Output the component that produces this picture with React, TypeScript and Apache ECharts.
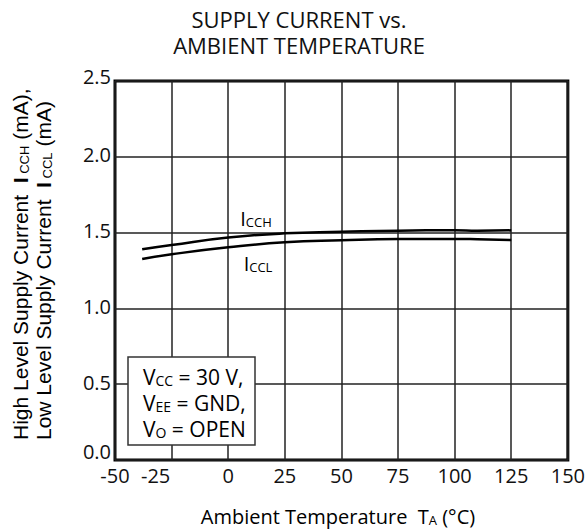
import React, { useEffect, useRef } from "react";
import * as echarts from "echarts";

const temps = [-38, -25, 0, 25, 50, 75, 100, 110, 125];
const icch = [1.39, 1.418, 1.467, 1.495, 1.505, 1.513, 1.515, 1.512, 1.515];
const iccl = [1.326, 1.357, 1.403, 1.436, 1.449, 1.457, 1.458, 1.456, 1.451];

const FONT = "'Open Sans', sans-serif";
const ARIAL = "'Liberation Sans', Arial, sans-serif";

export default function App() {
  const ref = useRef<HTMLDivElement>(null);
  useEffect(() => {
    if (!ref.current) return;
    const chart = echarts.init(ref.current, null, { renderer: "svg" });
    const big = { fontFamily: FONT, fontSize: 20, color: "#111", verticalAlign: "bottom", lineHeight: 22 };
    const small = { fontFamily: FONT, fontSize: 13, color: "#111", verticalAlign: "bottom", lineHeight: 18 };
    const tick = { fontFamily: FONT, fontSize: 20, color: "#111" };
    chart.setOption({
      animation: false,
      backgroundColor: "#fff",
      grid: {
        left: 115,
        right: 19,
        top: 81,
        bottom: 72,
        show: true,
        borderColor: "#000",
        borderWidth: 3,
        backgroundColor: "transparent",
      },
      xAxis: {
        type: "value",
        min: -50,
        max: 150,
        interval: 25,
        axisLine: { show: false },
        axisTick: { show: false },
        splitLine: { show: true, lineStyle: { color: "#222", width: 1.5 } },
        axisLabel: {
          ...tick,
          margin: 5,
          formatter: (v: number) => (v === -25 ? "{l|-25}" : String(v)),
          rich: { l: { ...tick, padding: [0, 32, 0, 0] } },
        },
      },
      yAxis: {
        type: "value",
        min: 0,
        max: 2.5,
        interval: 0.5,
        axisLine: { show: false },
        axisTick: { show: false },
        splitLine: { show: true, lineStyle: { color: "#222", width: 1.5 } },
        axisLabel: {
          ...tick,
          margin: 4,
          formatter: (v: number) =>
            v === 0 ? "{lo|0.0}" : v === 2.5 ? "{hi|2.5}" : "{n|" + v.toFixed(1) + "}",
          rich: {
            n: { ...tick, padding: [0, 0, 4, 0] },
            lo: { ...tick, padding: [0, 0, 18, 0] },
            hi: { ...tick, padding: [0, 0, 10, 0] },
          },
        },
      },
      series: [
        {
          type: "line",
          name: "ICCH",
          smooth: true,
          symbol: "none",
          lineStyle: { color: "#000", width: 2.5 },
          data: temps.map((t, i) => [t, icch[i]]),
        },
        {
          type: "line",
          name: "ICCL",
          smooth: true,
          symbol: "none",
          lineStyle: { color: "#000", width: 2.5 },
          data: temps.map((t, i) => [t, iccl[i]]),
        },
      ],
      graphic: [
        {
          type: "text",
          x: 299,
          y: 19,
          style: { text: "SUPPLY CURRENT vs.", font: "22px " + FONT, fill: "#111", align: "center", verticalAlign: "middle" },
        },
        {
          type: "text",
          x: 299,
          y: 45,
          style: { text: "AMBIENT TEMPERATURE", font: "22px " + FONT, fill: "#111", align: "center", verticalAlign: "middle" },
        },
        {
          type: "text",
          x: 256,
          y: 217,
          style: { text: "{a|I}{s|CCH}", align: "center", verticalAlign: "middle", rich: { a: big, s: small } },
        },
        {
          type: "text",
          x: 258,
          y: 262,
          style: { text: "{a|I}{s|CCL}", align: "center", verticalAlign: "middle", rich: { a: big, s: small } },
        },
        {
          type: "rect",
          shape: { x: 128, y: 357, width: 127, height: 88 },
          style: { fill: "#fff", stroke: "#333", lineWidth: 1.5 },
          z: 10,
        },
        {
          type: "text",
          x: 143,
          y: 400,
          z: 11,
          style: {
            text: "{a|V}{s|CC}{a| = 30 V,}\n{a|V}{s|EE}{a| = GND,}\n{a|V}{s|O}{a| = OPEN}",
            align: "left",
            verticalAlign: "middle",
            rich: {
              a: { ...big, fontSize: 21, lineHeight: 26 },
              s: { ...small, fontSize: 14, lineHeight: 22 },
            },
          },
        },
        {
          type: "text",
          x: 338,
          y: 515,
          style: {
            text: "{a|Ambient Temperature  T}{s|A}{a| (°C)}",
            align: "center",
            verticalAlign: "middle",
            rich: { a: big, s: small },
          },
        },
        {
          type: "text",
          x: 31,
          y: 440,
          rotation: Math.PI / 2,
          style: {
            text:
              "{a|High Level Supply Current  }{b|I}{s| CCH}{a| (mA),}\n{a|Low Level Supply Current  }{b|I}{s| CCL}{a| (mA)}",
            align: "left",
            verticalAlign: "middle",
            rich: {
              a: { fontFamily: ARIAL, fontSize: 21, color: "#111", verticalAlign: "bottom", lineHeight: 23 },
              b: { fontFamily: ARIAL, fontSize: 21, fontWeight: "bold", color: "#111", verticalAlign: "bottom", lineHeight: 23 },
              s: { fontFamily: ARIAL, fontSize: 13, color: "#111", verticalAlign: "bottom", lineHeight: 19 },
            },
          },
        },
      ],
    });
    return () => chart.dispose();
  }, []);
  return <div ref={ref} style={{ position: "absolute", left: 0, top: 0, width: 588, height: 532 }} />;
}
